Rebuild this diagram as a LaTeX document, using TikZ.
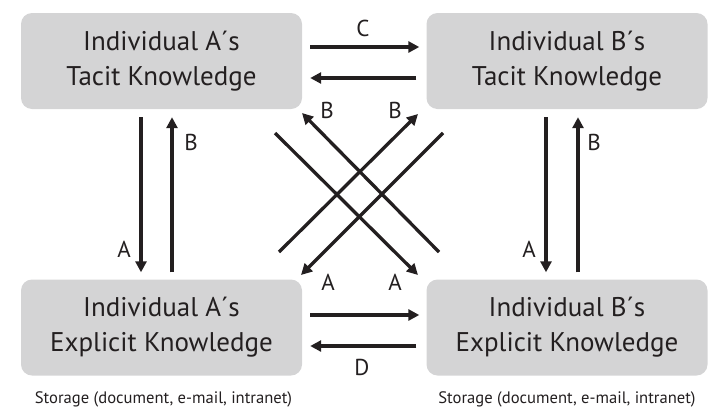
\documentclass[tikz,border=0pt]{standalone}
\usepackage{fontspec}
\setmainfont{PT Sans}
\usetikzlibrary{arrows.meta}
\definecolor{boxgray}{HTML}{D4D4D5}
\definecolor{ink}{HTML}{231F20}
\begin{document}
\begin{tikzpicture}[x=1pt,y=-1pt,
  kbox/.style={fill=boxgray, rounded corners=11pt, minimum width=281pt,
    minimum height=96pt, align=center, text=ink, inner sep=0pt,
    font=\fontsize{27}{35}\selectfont},
  arr/.style={draw=ink, line width=3.3pt,
    -{Triangle[length=11pt,width=11pt]}},
  lbl/.style={text=ink, inner sep=0pt, font=\fontsize{23}{23}\selectfont},
  note/.style={text=ink, inner sep=0pt, font=\fontsize{16.6}{16.6}\selectfont}]
\useasboundingbox (0,0) rectangle (708,410);

% knowledge boxes
\node[kbox] (ta) at (161.5,61)  {Individual A´s\\Tacit Knowledge};
\node[kbox] (tb) at (567,61)    {Individual B´s\\Tacit Knowledge};
\node[kbox] (ea) at (161.5,327.5) {Individual A´s\\Explicit Knowledge};
\node[kbox] (eb) at (567,327.5) {Individual B´s\\Explicit Knowledge};

% storage captions
\node[note] (sa) at (163.5,399) {Storage (document, e-mail, intranet)};
\node[note] (sb) at (567,399) {Storage (document, e-mail, intranet)};

% horizontal exchanges
\draw[arr] ([yshift=14pt,xshift=8pt]ta.east) -- ([yshift=14pt,xshift=-7pt]tb.west);
\draw[arr] ([yshift=-17pt,xshift=-10pt]tb.west) -- ([yshift=-17pt,xshift=8pt]ta.east);
\draw[arr] ([yshift=12.5pt,xshift=8pt]ea.east) -- ([yshift=12.5pt,xshift=-7pt]eb.west);
\draw[arr] ([yshift=-18.5pt,xshift=-10pt]eb.west) -- ([yshift=-18.5pt,xshift=8pt]ea.east);

% vertical exchanges
\draw[arr] ([xshift=-20.5pt,yshift=-8pt]ta.south) -- ([xshift=-20.5pt,yshift=7pt]ea.north);
\draw[arr] ([xshift=10.5pt,yshift=7pt]ea.north) -- ([xshift=10.5pt,yshift=-8pt]ta.south);
\draw[arr] ([xshift=-21pt,yshift=-8pt]tb.south) -- ([xshift=-21pt,yshift=7pt]eb.north);
\draw[arr] ([xshift=11pt,yshift=7pt]eb.north) -- ([xshift=11pt,yshift=-8pt]tb.south);

% diagonal exchanges
\coordinate (d1s) at (439,252); \coordinate (d1e) at (302,113);
\coordinate (d2s) at (275,133); \coordinate (d2e) at (418,275);
\coordinate (d3s) at (279,252); \coordinate (d3e) at (418,114);
\coordinate (d4s) at (443,133); \coordinate (d4e) at (301,275);
\draw[arr] (d1s) -- (d1e);
\draw[arr] (d2s) -- (d2e);
\draw[arr] (d3s) -- (d3e);
\draw[arr] (d4s) -- (d4e);

% labels
\node[lbl] (lc) at (363,28) {C};
\node[lbl] (ld) at (362,367) {D};
\node[lbl] (la1) at (124,249) {A};
\node[lbl] (lb1) at (191,142) {B};
\node[lbl] (la2) at (529,249) {A};
\node[lbl] (lb2) at (594,142) {B};
\node[lbl] (lb3) at (327,110) {B};
\node[lbl] (lb4) at (395,110) {B};
\node[lbl] (la3) at (328,282) {A};
\node[lbl] (la4) at (395,282) {A};
\end{tikzpicture}
\end{document}
